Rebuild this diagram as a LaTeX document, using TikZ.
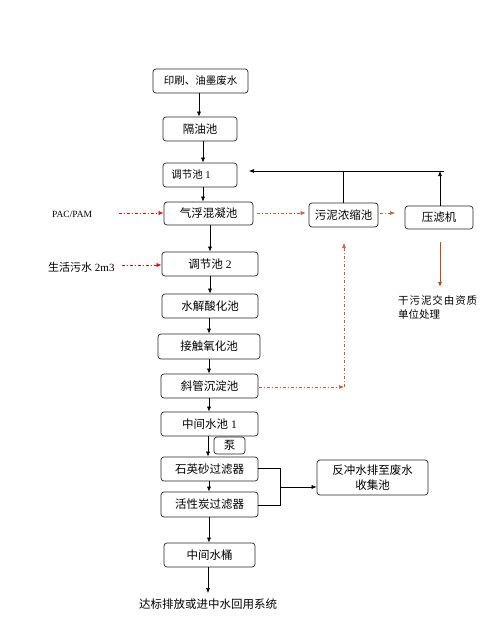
\documentclass[tikz,border=0pt]{standalone}
\usepackage{fontspec}
\setmainfont{Liberation Serif}
\newfontfamily\cjk{Noto Sans CJK SC}
\usetikzlibrary{arrows.meta}
\definecolor{brownline}{RGB}{192,98,52}
\definecolor{brownarrow}{RGB}{190,75,20}
\newcommand\zh[1]{{\cjk #1}}
\begin{document}
\begin{tikzpicture}[x=1pt,y=-1pt,
  font=\fontsize{11.5}{13}\selectfont,
  box/.style={draw=black!85, line width=0.7pt, rounded corners=3pt, inner sep=0pt, minimum height=24pt},
  arr/.style={-{Latex[length=5pt,width=4pt]}, line width=0.6pt},
  dd/.style={dash pattern=on 3pt off 2pt on 1pt off 2pt, line width=0.6pt},
  redarr/.style={dd, red, -{Latex[length=5pt,width=4pt]}},
  brarr/.style={dd, brownline, -{Latex[length=5pt,width=4pt]}}]
\useasboundingbox (0,0) rectangle (488,621);
\fill[white] (0,0) rectangle (488,621);

% main column
\node[box, minimum width=95pt, font=\fontsize{10.5}{12}\selectfont] (n1) at (200.5,81) {\zh{印刷、油墨废水}};
\node[box, minimum width=74pt] (n2) at (200,129) {\zh{隔油池}};
\node[box, minimum width=74pt] (n3) at (200,175) {};
\node[font=\fontsize{10.5}{12}\selectfont, inner sep=0pt] (t3) at (191,175) {\zh{调节池} 1};
\node[box, minimum width=89pt, minimum height=23pt] (n4) at (208.5,213.5) {\zh{气浮混凝池}};
\node[box, minimum width=96pt] (n5) at (210,264) {\zh{调节池} 2};
\node[box, minimum width=96pt] (n6) at (210,306) {\zh{水解酸化池}};
\node[box, minimum width=102pt, minimum height=25pt] (n7) at (209,346.5) {\zh{接触氧化池}};
\node[box, minimum width=97pt] (n8) at (209.5,386) {\zh{斜管沉淀池}};
\node[box, minimum width=97pt] (n9) at (209.5,424) {\zh{中间水池} 1};
\node[box, minimum width=31pt, minimum height=17pt] (pump) at (229.5,445.5) {\zh{泵}};
\node[box, minimum width=97pt] (n10) at (209.5,469) {\zh{石英砂过滤器}};
\node[box, minimum width=97pt, minimum height=25pt] (n11) at (209.5,504.5) {\zh{活性炭过滤器}};
\node[box, minimum width=91pt] (n12) at (209.5,555) {\zh{中间水桶}};
\node[inner sep=0pt] (out) at (208,604) {\zh{达标排放或进中水回用系统}};
\coordinate (outtip) at (208,593);

% side boxes
\node[box, minimum width=69pt] (wn) at (343.5,215) {\zh{污泥浓缩池}};
\node[box, minimum width=68pt, minimum height=23pt] (yl) at (439,217.5) {\zh{压滤机}};
\node[box, minimum width=111pt, minimum height=35pt, align=center, font=\fontsize{11.5}{15}\selectfont] (fc) at (372.5,477.5) {\zh{反冲水排至废水}\\\zh{收集池}};
\node[inner sep=0pt, align=left, anchor=north west, font=\fontsize{10.5}{14}\selectfont] (gn) at (398,295)
  {\makebox[79pt][l]{\zh{干}\hfill\zh{污}\hfill\zh{泥}\hfill\zh{交}\hfill\zh{由}\hfill\zh{资}\hfill\zh{质}}\\\zh{单位处理}};

% inputs
\node[anchor=west, inner sep=0pt, font=\fontsize{9.5}{11}\selectfont] (pac) at (52,214) {PAC/PAM};
\node[anchor=west, inner sep=0pt, font=\fontsize{11}{12}\selectfont] (sh) at (48,267) {\zh{生活污水} 2m3};

% main arrows
\draw[arr] (n1.south -| 199,0) -- (n2.north -| 199,0);
\draw[arr] (n2.south -| 203,0) -- (n3.north -| 203,0);
\draw[arr] (n3.south -| 203,0) -- (n4.north -| 203,0);
\draw[arr] (n4.south -| n5) -- (n5.north);
\draw[arr] (n5.south -| 210,0) -- (n6.north -| 210,0);
\draw[arr] (n6.south -| 209,0) -- (n7.north -| 209,0);
\draw[arr] (n7.south -| 209,0) -- (n8.north -| 209,0);
\draw[arr] (n8.south -| 209,0) -- (n9.north -| 209,0);
\draw[arr] (n9.south -| 208,0) -- (n10.north -| 208,0);
\draw[arr] (n10.south -| 209,0) -- (n11.north -| 209,0);
\draw[arr] (n11.south -| 209,0) -- (n12.north -| 209,0);
\draw[arr] (n12.south -| 208,0) -- (outtip);

% feedback to 调节池1
\coordinate (fbr) at (444,171);
\coordinate (fbtip) at (249,171);
\coordinate (fbup) at (440,171);
\draw[arr] (fbr) -- (fbtip);
\draw[line width=0.6pt] (wn.north) -- (wn.north |- fbr);
\draw[arr] (yl.north -| fbup) -- (fbup);

% sludge dash-dot
\draw[brarr] ([xshift=4pt]n4.east |- 0,213) -- ([xshift=-3pt]wn.west |- 0,213);
\draw[brarr] ([xshift=2pt]wn.east |- 0,213) -- (395,213);
\coordinate (sc) at (344,387);
\draw[brarr] ([xshift=1pt]n8.east |- sc) -- (sc);
\draw[brarr] (sc) -- (344,243);
\draw[brownarrow, line width=0.8pt, -{Latex[length=5pt,width=4pt]}] (440,242) -- (440,287);

% chemical inputs
\draw[redarr] (119,213) -- (n4.west |- 0,213);
\draw[redarr] (122,265) -- (n5.west |- 0,265);

% backwash
\coordinate (bw) at (280,487);
\draw[line width=0.6pt] (n10.east |- 0,468) -- (280,468) -- (280,505) -- (n11.east |- 0,505);
\draw[arr] (bw) -- (fc.west |- bw);
\end{tikzpicture}
\end{document}
